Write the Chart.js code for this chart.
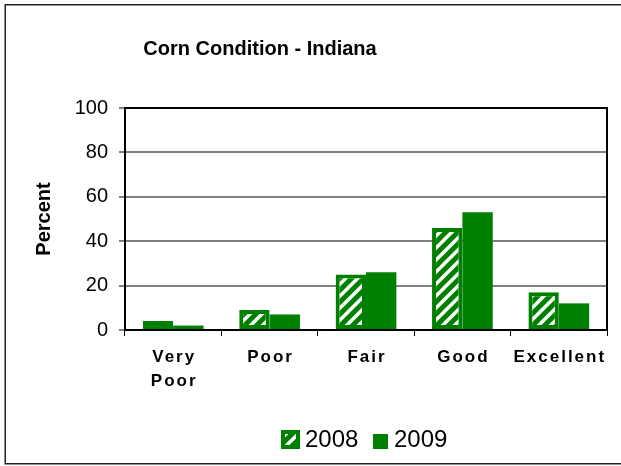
<!DOCTYPE html>
<html>
<head>
<meta charset="utf-8">
<script src="https://cdn.jsdelivr.net/npm/chart.js@4.4.0/dist/chart.umd.min.js"></script>
<style>
  html, body { margin: 0; padding: 0; background: #fff; }
  #wrap { width: 621px; height: 466px; position: relative; }
</style>
</head>
<body>
<div id="wrap"><canvas id="chart" width="621" height="466"></canvas></div>
<script>
// data
var categories = [["Very", "Poor"], "Poor", "Fair", "Good", "Excellent"];
var seriesNames = ["2008", "2009"];
var values2008 = [4, 9, 25, 46, 17];
var values2009 = [2, 7, 26, 53, 12];
var yTicks = [0, 20, 40, 60, 80, 100];
var chartTitle = "Corn Condition - Indiana";
var yTitle = "Percent";

var GREEN = "#008000";
var FONT = "'Liberation Sans', Arial, sans-serif";
Chart.defaults.font.family = FONT;
Chart.defaults.color = "#000";

var canvas = document.getElementById("chart");
var ctx = canvas.getContext("2d");

// wide upward diagonal hatch (white on green)
function makeHatch() {
  var t = document.createElement("canvas");
  t.width = 12; t.height = 12;
  var g = t.getContext("2d");
  g.fillStyle = GREEN;
  g.fillRect(0, 0, 12, 12);
  g.strokeStyle = "#fff";
  g.lineWidth = 3.5;
  g.beginPath();
  g.moveTo(-3, 15); g.lineTo(15, -3);
  g.moveTo(-3, 3); g.lineTo(3, -3);
  g.moveTo(9, 15); g.lineTo(15, 9);
  g.stroke();
  return ctx.createPattern(t, "repeat");
}
var hatch = makeHatch();

// title, frame, right border of plot, legend
var extras = {
  id: "extras",
  beforeDraw: function (chart) {
    var sx = chart.scales.x;
    if (!sx._spaced) {
      var orig = sx.drawLabels;
      sx.drawLabels = function (area) {
        var c = this.ctx;
        c.save();
        c.letterSpacing = "2px";
        c.translate(1, 0);
        orig.call(this, area);
        c.restore();
      };
      sx._spaced = true;
    }
  },
  afterDraw: function (chart) {
    var c = chart.ctx;
    var a = chart.chartArea;
    c.save();
    // outer frame
    c.strokeStyle = "#222";
    c.lineWidth = 1.5;
    c.beginPath();
    c.moveTo(625, 4.75);
    c.lineTo(5.25, 4.75);
    c.lineTo(5.25, 463.75);
    c.lineTo(625, 463.75);
    c.stroke();
    // right edge of plot
    c.strokeStyle = "#000";
    c.lineWidth = 2;
    c.beginPath();
    c.moveTo(a.right, a.top - 1);
    c.lineTo(a.right, a.bottom);
    c.stroke();
    // title
    c.fillStyle = "#000";
    c.font = "bold 20px " + FONT;
    c.textAlign = "center";
    c.textBaseline = "alphabetic";
    c.fillText(chartTitle, 260, 55);
    // legend
    var ds = chart.data.datasets;
    c.font = "24px " + FONT;
    c.textAlign = "left";
    c.fillStyle = ds[0].backgroundColor;
    c.fillRect(281, 430, 19, 19);
    c.strokeStyle = GREEN;
    c.lineWidth = 4;
    c.strokeRect(283, 432, 15, 15);
    c.fillStyle = "#000";
    c.fillText(ds[0].label, 305, 447);
    c.fillStyle = ds[1].backgroundColor;
    c.fillRect(373, 434, 15, 15);
    c.fillStyle = "#000";
    c.fillText(ds[1].label, 394, 447);
    c.restore();
  }
};

new Chart(canvas, {
  type: "bar",
  data: {
    labels: categories,
    datasets: [
      {
        label: seriesNames[0],
        data: values2008,
        backgroundColor: hatch,
        borderColor: GREEN,
        borderWidth: 4,
        borderSkipped: false
      },
      {
        label: seriesNames[1],
        data: values2009,
        backgroundColor: GREEN,
        borderWidth: 0
      }
    ]
  },
  options: {
    responsive: false,
    animation: false,
    events: [],
    layout: { padding: { left: 5, right: 14, top: 108, bottom: 56 } },
    plugins: {
      legend: { display: false },
      title: { display: false },
      tooltip: { enabled: false }
    },
    datasets: {
      bar: { categoryPercentage: 0.63, barPercentage: 1.0 }
    },
    scales: {
      x: {
        afterFit: function (s) { s.height = 80; },
        grid: {
          offset: true,
          drawOnChartArea: false,
          drawTicks: true,
          tickLength: 6,
          tickColor: "#000",
          tickWidth: 1
        },
        border: { display: true, color: "#000", width: 2 },
        ticks: {
          font: { size: 17, weight: "bold", lineHeight: 24 / 17 },
          color: "#000",
          padding: 9,
          maxRotation: 0,
          autoSkip: false
        }
      },
      y: {
        min: 0,
        max: 100,
        afterFit: function (s) { s.width = 120; },
        afterBuildTicks: function (s) {
          s.ticks = yTicks.map(function (v) { return { value: v }; });
        },
        grid: {
          color: function (c) {
            var v = c.tick ? c.tick.value : null;
            return (v === 100 || v === 0) ? "#000" : "#808080";
          },
          lineWidth: 2,
          drawTicks: true,
          tickLength: 6,
          tickColor: "#000",
          tickWidth: 1
        },
        border: { display: true, color: "#000", width: 2 },
        ticks: {
          font: { size: 20 },
          color: "#000",
          padding: 11
        },
        title: {
          display: true,
          text: yTitle,
          font: { size: 20, weight: "bold" },
          color: "#000",
          padding: { top: 27, bottom: 0 }
        }
      }
    }
  },
  plugins: [extras]
});
</script>
</body>
</html>
